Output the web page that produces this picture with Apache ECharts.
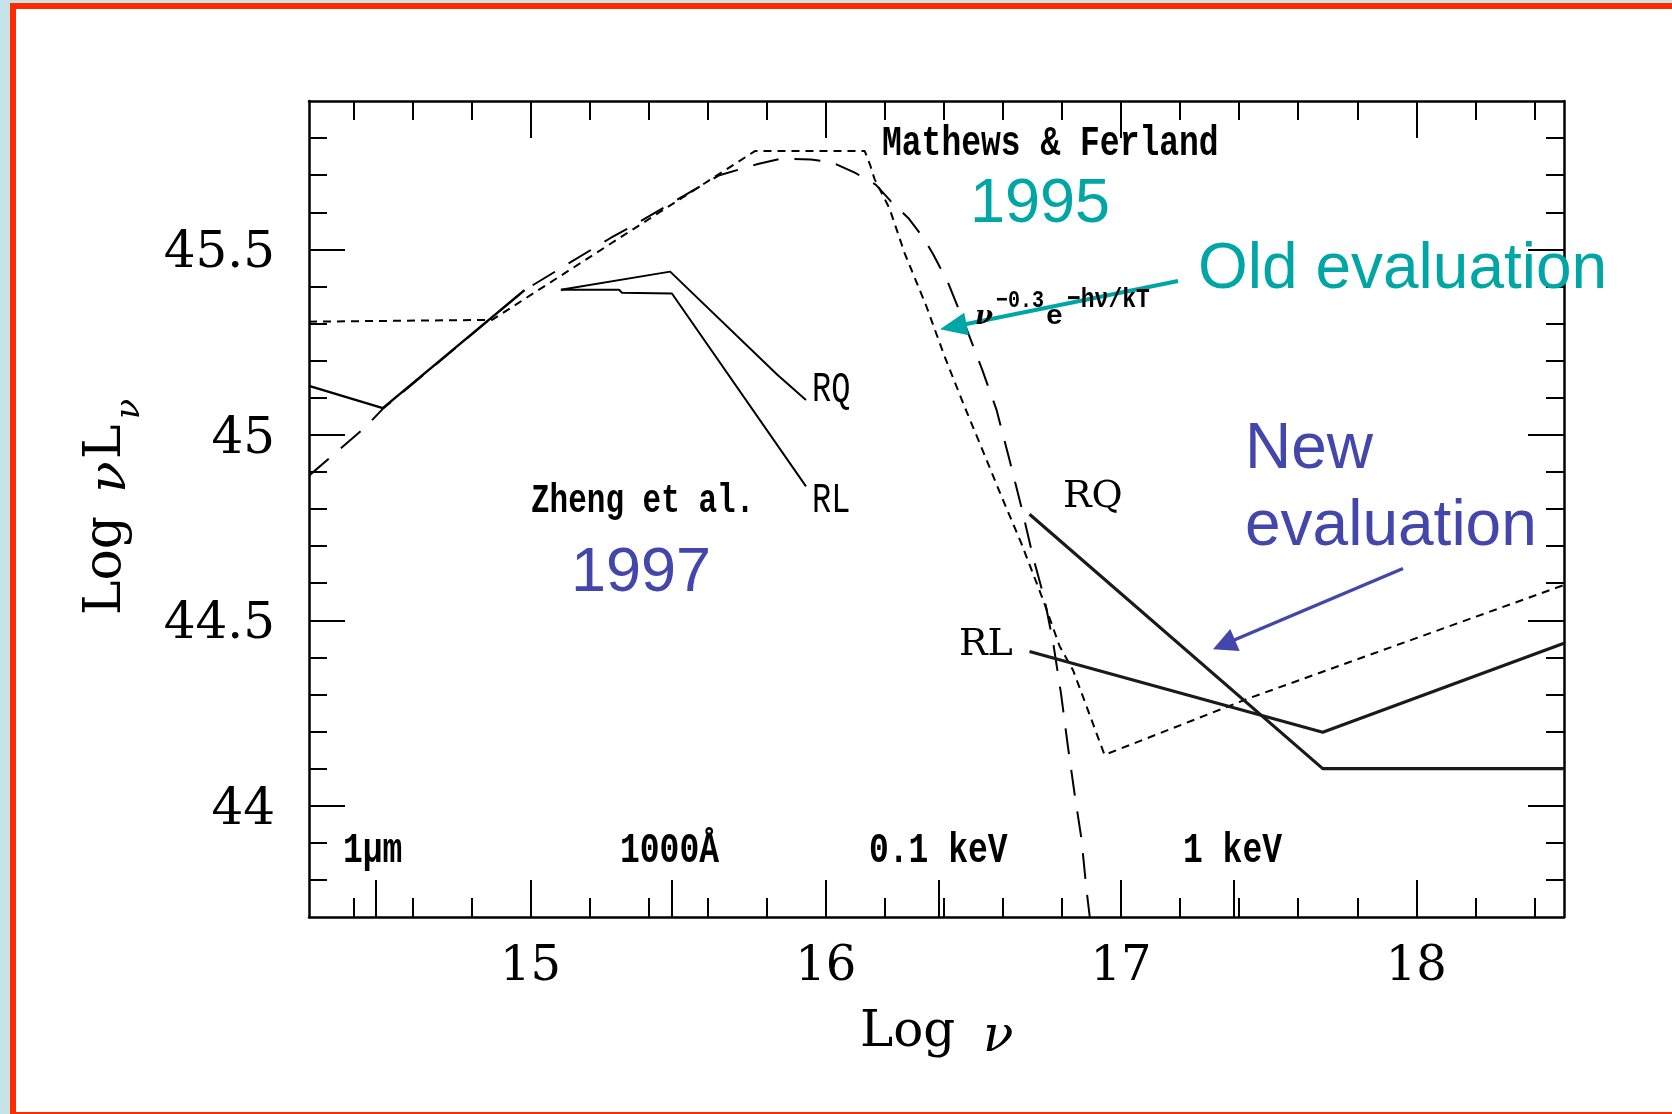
<!DOCTYPE html>
<html><head><meta charset="utf-8">
<script src="https://cdn.jsdelivr.net/npm/echarts@6/dist/echarts.min.js"></script>
<style>
html,body{margin:0;padding:0;width:1672px;height:1114px;overflow:hidden;background:#c6e4e8;}
#frame{position:absolute;left:10px;top:3px;width:1700px;height:1103px;border:6px solid #ff2a00;background:#fff;}
#chart{position:absolute;left:0;top:0;width:1672px;height:1114px;}
</style></head><body>
<div id="frame"></div>
<div id="chart"></div>
<script>
// ---- axis ticks ----
const xMajorTicks = [15, 16, 17, 18];
const xBandTicks = [14.477, 15.477, 16.383, 17.383];       // 1μm, 1000Å, 0.1 keV, 1 keV
const xMinorTicks = [14.4,14.6,14.8,15.2,15.4,15.6,15.8,16.2,16.4,16.6,16.8,17.2,17.4,17.6,17.8,18.2,18.4];
const yMajorTicks = [44, 44.5, 45, 45.5];
const yMinorTicks = [43.8,43.9,44.1,44.2,44.3,44.4,44.6,44.7,44.8,44.9,45.1,45.2,45.3,45.4,45.6,45.7,45.8];
const bandLabels = ['1\u03bcm', '1000\u00c5', '0.1 keV', '1 keV'];

// ---- series (log nu, log nuL_nu) ----
const irSolid = [[14.25,45.132],[14.50,45.072],[14.98,45.39]];
const zhengRQ = [[15.103,45.391],[15.473,45.44],[15.836,45.162],[15.933,45.094]];
const zhengRL = [[15.103,45.391],[15.30,45.391],[15.31,45.383],[15.479,45.381],[15.933,44.861]];
const mathewsFerland = [[14.25,45.305],[14.87,45.31],[15.76,45.765],[16.132,45.765],[16.15,45.728],[16.165,45.69],
  [16.216,45.61],[16.267,45.49],[16.341,45.346],[16.403,45.21],[16.47,45.076],[16.521,44.978],[16.595,44.834],
  [16.662,44.708],[16.736,44.555],[16.792,44.43],[16.837,44.366],[16.871,44.294],[16.944,44.137],[17.434,44.29],[18.5,44.595]];
const cutoffModel = [[14.25,44.89],[14.44,45.02],[14.50,45.07],[14.98,45.39],[15.27,45.53],[15.36,45.57],[15.51,45.64],
  [15.64,45.70],[15.77,45.73],[15.85,45.745],[15.95,45.742],[16.02,45.735],[16.10,45.706],[16.17,45.674],[16.22,45.63],
  [16.28,45.584],[16.335,45.526],[16.365,45.485],[16.414,45.41],[16.465,45.31],[16.53,45.175],[16.578,45.068],
  [16.623,44.93],[16.662,44.807],[16.703,44.667],[16.74,44.56],[16.77,44.44],[16.797,44.30],[16.82,44.16],
  [16.843,44.03],[16.866,43.91],[16.882,43.78],[16.894,43.70]];
const newRQ = [[16.69,44.786],[17.683,44.10],[18.5,44.10]];
const newRL = [[16.69,44.416],[17.683,44.198],[18.5,44.438]];

const X_MIN = 14.25, X_MAX = 18.5, Y_MIN = 43.7, Y_MAX = 45.9;

function xAx(pos, ticks, len, labelVals, line) {
  return {
    type: 'value', position: pos, min: X_MIN, max: X_MAX,
    axisLine: { show: line, onZero: false, lineStyle: { color: '#000', width: 2.5 } },
    axisTick: { show: true, inside: true, length: len, customValues: ticks, lineStyle: { color: '#000', width: 2 } },
    axisLabel: labelVals ? { show: true, customValues: labelVals, margin: 27, color: '#000',
      fontFamily: 'DejaVu Serif', fontSize: 48 } : { show: false },
    splitLine: { show: false }
  };
}
function yAx(pos, ticks, len, labelVals, line) {
  return {
    type: 'value', position: pos, min: Y_MIN, max: Y_MAX,
    axisLine: { show: line, onZero: false, lineStyle: { color: '#000', width: 2.5 } },
    axisTick: { show: true, inside: true, length: len, customValues: ticks, lineStyle: { color: '#000', width: 2 } },
    axisLabel: labelVals ? { show: true, customValues: labelVals, margin: 34, color: '#000',
      formatter: v => '{a|' + v + '}',
      rich: { a: { fontFamily: 'DejaVu Serif', fontSize: 50, color: '#000', padding: [10, 0, 0, 0] } } } : { show: false },
    splitLine: { show: false }
  };
}

function lineSeries(name, data, style, z) {
  return { name, type: 'line', data, xAxisIndex: 0, yAxisIndex: 0, symbol: 'none', smooth: false,
    lineStyle: style, z: z || 2, silent: true };
}

function txt(x, y, text, font, fill, extra) {
  return Object.assign({ type: 'text', x, y, z: 100,
    style: { text, font, fill, textAlign: 'left', textVerticalAlign: 'middle', align: 'left', verticalAlign: 'middle' } }, extra || {});
}

const TT = '"Liberation Mono", monospace';
const SERIF = '"DejaVu Serif", serif';
const SANS = '"Liberation Sans", Arial, sans-serif';
const TEAL = '#00a6a6', INDIGO = '#4346aa';

const graphics = [
  // typewriter annotations from original figure
  txt(882, 144, 'Mathews & Ferland', 'bold 33px ' + TT, '#000', { scaleY: 1.3 }),
  txt(531, 502, 'Zheng et al.', 'bold 31px ' + TT, '#000', { scaleY: 1.3 }),
  txt(812, 390, 'RQ', '32px ' + TT, '#000', { scaleY: 1.3 }),
  txt(812, 501, 'RL', '32px ' + TT, '#000', { scaleY: 1.3 }),
  txt(343, 851, bandLabels[0], 'bold 33px ' + TT, '#000', { scaleY: 1.3 }),
  txt(620, 851, bandLabels[1], 'bold 33px ' + TT, '#000', { scaleY: 1.3 }),
  txt(869, 851, bandLabels[2], 'bold 33px ' + TT, '#000', { scaleY: 1.3 }),
  txt(1183, 851, bandLabels[3], 'bold 33px ' + TT, '#000', { scaleY: 1.3 }),
  // nu^-0.3 e^-hnu/kT
  txt(975, 317, '\u03bd', 'italic bold 26px ' + SERIF, '#000'),
  txt(996, 301, '\u22120.3', 'bold 20px ' + TT, '#000', { scaleY: 1.2 }),
  txt(1046, 317, 'e', 'bold 28px ' + TT, '#000'),
  txt(1067, 300, '\u2212h\u03bd/kT', 'bold 23px ' + TT, '#000', { scaleY: 1.2 }),
  // new evaluation labels
  txt(1063, 497, 'RQ', '38px ' + SERIF, '#000'),
  txt(959, 645, 'RL', '38px ' + SERIF, '#000'),
  // axis titles
  txt(860, 1033, 'Log', '50px ' + SERIF, '#000'),
  txt(983, 1038, '\u03bd', 'italic 50px ' + SERIF, '#000'),
  {
    type: 'group', x: 106, y: 499, rotation: Math.PI / 2, z: 100,
    children: [
      txt(-116, 0, 'Log', '52px ' + SERIF, '#000'),
      txt(6, 5, '\u03bd', 'italic 52px ' + SERIF, '#000'),
      txt(40, 0, 'L', '52px ' + SERIF, '#000'),
      txt(80, 24, '\u03bd', 'italic 33px ' + SERIF, '#000')
    ]
  },
  // colored slide annotations
  txt(970, 205, '1995', '63px ' + SANS, TEAL),
  txt(1198, 270, 'Old evaluation', '64px ' + SANS, TEAL),
  txt(1245, 450, 'New', '64px ' + SANS, INDIGO),
  txt(1245, 527, 'evaluation', '64px ' + SANS, INDIGO),
  txt(571, 574, '1997', '63px ' + SANS, INDIGO),
  // arrows
  { type: 'line', z: 99, shape: { x1: 1178, y1: 281, x2: 964, y2: 324.5 }, style: { stroke: TEAL, lineWidth: 4 } },
  { type: 'polygon', z: 99, shape: { points: [[940, 329.3], [968.8, 335.3], [964.2, 312.7]] }, style: { fill: TEAL } },
  { type: 'line', z: 99, shape: { x1: 1403, y1: 568.5, x2: 1233, y2: 640.5 }, style: { stroke: INDIGO, lineWidth: 3.5 } },
  { type: 'polygon', z: 99, shape: { points: [[1213, 649.3], [1239.7, 650.9], [1230.3, 628.9]] }, style: { fill: INDIGO } }
];

const chart = echarts.init(document.getElementById('chart'), null, { renderer: 'canvas' });
chart.setOption({
  animation: false,
  backgroundColor: 'transparent',
  grid: { left: 309, top: 101, width: 1255, height: 816, containLabel: false },
  xAxis: [
    xAx('bottom', xMajorTicks.concat(xBandTicks), 37, xMajorTicks, true),
    xAx('bottom', xMinorTicks, 19, null, false),
    xAx('top', xMajorTicks, 37, null, true),
    xAx('top', xMinorTicks, 19, null, false)
  ],
  yAxis: [
    yAx('left', yMajorTicks, 36, yMajorTicks, true),
    yAx('left', yMinorTicks, 18, null, false),
    yAx('right', yMajorTicks, 36, null, true),
    yAx('right', yMinorTicks, 18, null, false)
  ],
  series: [
    lineSeries('cutoff', cutoffModel, { color: '#000', width: 2, type: [26, 16] }),
    lineSeries('Mathews & Ferland', mathewsFerland, { color: '#000', width: 2, type: [8, 6] }),
    lineSeries('IR', irSolid, { color: '#000', width: 2.5 }),
    lineSeries('Zheng RQ', zhengRQ, { color: '#000', width: 2 }),
    lineSeries('Zheng RL', zhengRL, { color: '#000', width: 2 }),
    lineSeries('New RQ', newRQ, { color: '#1a1a1a', width: 3.2 }, 3),
    lineSeries('New RL', newRL, { color: '#1a1a1a', width: 3.2 }, 3)
  ],
  graphic: { elements: graphics }
});
</script></body></html>
